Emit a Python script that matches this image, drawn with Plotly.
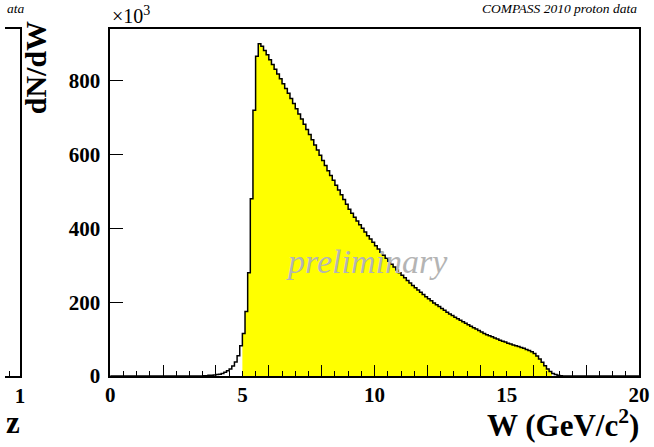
import numpy as np
import plotly.graph_objects as go

# dN/dW histogram, bins of 0.1 GeV/c^2 from 0 to 20, counts in units of 10^3
bin_width = 0.1
w_lo, w_hi = 0.0, 20.0
counts = [
    0, 0, 0, 0, 0, 0, 0, 0, 0, 0,            # 0.0 - 0.9
    0, 0, 0, 0, 0, 0, 0, 0, 0, 0,            # 1.0 - 1.9
    0, 0, 0, 0, 0, 0, 0, 0, 0, 0,            # 2.0 - 2.9
    0, 0, 0, 0, 0, 1, 1, 2, 2, 3,            # 3.0 - 3.9
    4, 5, 7, 10, 14, 19, 27, 38, 55, 82,     # 4.0 - 4.9
    115, 175, 280, 480, 720, 866, 900, 893, 882, 870,   # 5.0 - 5.9
    857, 844, 831, 818, 805, 792, 779, 766, 752, 738,   # 6.0 - 6.9
    724, 710, 696, 682, 668, 654, 640, 626, 612, 598,   # 7.0 - 7.9
    584, 570, 556, 543, 530, 517, 504, 491, 478, 465,   # 8.0 - 8.9
    452, 441, 430, 420, 410, 400, 390, 380, 371, 362,   # 9.0 - 9.9
    353, 344, 335, 327, 319, 311, 303, 295, 287, 280,   # 10.0 - 10.9
    273, 266, 259, 252, 245, 239, 233, 227, 221, 215,   # 11.0 - 11.9
    209, 204, 198, 193, 188, 183, 178, 173, 168, 164,   # 12.0 - 12.9
    159, 155, 151, 147, 143, 139, 135, 131, 127, 123,   # 13.0 - 13.9
    119, 115, 112, 109, 106, 103, 100, 97, 94, 92,      # 14.0 - 14.9
    89, 87, 84, 82, 80, 77, 75, 72, 69, 66,             # 15.0 - 15.9
    61, 54, 46, 37, 28, 19, 12, 7, 4, 2,                # 16.0 - 16.9
    1, 0, 0, 0, 0, 0, 0, 0, 0, 0,                       # 17.0 - 17.9
    0, 0, 0, 0, 0, 0, 0, 0, 0, 0,                       # 18.0 - 18.9
    0, 0, 0, 0, 0, 0, 0, 0, 0, 0,                       # 19.0 - 19.9
]
# W window shown filled
cut_lo, cut_hi = 5.0, 16.7

x_labels = [0, 5, 10, 15, 20]
x_major = [0, 2, 4, 6, 8, 10, 12, 14, 16, 18, 20]
y_ticks = [0, 200, 400, 600, 800]

SERIF = "Liberation Serif"
W, H = 654, 447
ML, MR, MT, MB = 0, 15, 29, 71
pw = W - ML - MR
ph = H - MT - MB
frame_left = 106

edges = np.round(np.arange(len(counts) + 1) * bin_width + w_lo, 3)
c = np.array(counts, dtype=float)

sel = (edges[:-1] >= cut_lo - 1e-9) & (edges[:-1] < cut_hi - 1e-9)
fx = np.append(edges[:-1][sel], edges[1:][sel][-1])
fy = np.append(c[sel], c[sel][-1])

fig = go.Figure()
fig.add_trace(go.Scatter(x=fx, y=fy, mode="lines", line=dict(shape="hv", width=0),
                         fill="tozeroy", fillcolor="#ffff00", hoverinfo="skip",
                         showlegend=False))
fig.add_trace(go.Scatter(x=edges, y=np.append(c, c[-1]), mode="lines",
                         line=dict(shape="hv", color="black", width=1.5),
                         showlegend=False))
# label-only axis over the main one
fig.add_trace(go.Scatter(x=[w_lo], y=[0], mode="markers", marker=dict(opacity=0),
                         xaxis="x3", showlegend=False, hoverinfo="skip"))
# left neighbour panel (cut off)
fig.add_trace(go.Scatter(x=[0.99], y=[0], mode="markers", marker=dict(opacity=0),
                         xaxis="x2", yaxis="y2", showlegend=False, hoverinfo="skip"))

axfont = dict(family=SERIF, size=21, color="black", weight="bold")
fig.update_layout(
    width=W, height=H,
    margin=dict(l=ML, r=MR, t=MT, b=MB),
    paper_bgcolor="white", plot_bgcolor="white",
    xaxis=dict(domain=[frame_left / pw, 1], range=[w_lo, w_hi],
               tickvals=x_major, showticklabels=False,
               ticks="inside", ticklen=11, tickwidth=1.3, tickcolor="black",
               minor=dict(dtick=0.5, ticks="inside", ticklen=5.5, tickwidth=1.2,
                          tickcolor="black", showgrid=False),
               showline=True, linecolor="black", linewidth=1.5, mirror=True,
               showgrid=False, zeroline=False),
    xaxis3=dict(overlaying="x", matches="x", anchor="y", side="bottom",
                tickvals=x_labels, ticks="", showline=False, showgrid=False,
                zeroline=False, tickfont=axfont, ticklabelstandoff=4),
    yaxis=dict(range=[0, 940], tickvals=y_ticks, ticks="inside", ticklen=13,
               tickwidth=1.3, tickcolor="black", ticklabelstandoff=4,
               showline=True, linecolor="black", linewidth=1.5, mirror=True,
               showgrid=False, zeroline=False, tickfont=axfont),
    xaxis2=dict(domain=[0, 15 / pw], range=[0.9625, 1.0], anchor="y2",
                tickvals=[0.975, 1.0], ticktext=[" ", "1"], ticks="inside",
                ticklen=5, tickcolor="black",
                showline=True, linecolor="black", linewidth=1.5, mirror=True,
                showgrid=False, zeroline=False, tickfont=axfont),
    yaxis2=dict(range=[0, 1], anchor="x2", side="right", showticklabels=False,
                ticks="", showline=True, linecolor="black", linewidth=1.5,
                mirror=False, showgrid=False, zeroline=False),
)

fig.add_annotation(text="×10<sup>3</sup>", xref="paper", yref="paper",
                   x=frame_left / pw, y=1, xanchor="left", yanchor="bottom",
                   showarrow=False, font=dict(family=SERIF, size=20, color="black"))
fig.add_annotation(text="COMPASS 2010 proton data", xref="paper", yref="paper",
                   x=1, y=1 + 21 / ph, xanchor="right", yanchor="middle",
                   showarrow=False,
                   font=dict(family=SERIF, size=13.5, color="black", style="italic"))
fig.add_annotation(text="ata", xref="paper", yref="paper",
                   x=0, y=1 + 21 / ph, xanchor="left", yanchor="middle",
                   showarrow=False,
                   font=dict(family=SERIF, size=13.5, color="black", style="italic"))
fig.add_annotation(text="dN/dW", xref="paper", yref="paper",
                   x=31 / pw, y=1 + 10 / ph, xanchor="center", yanchor="top",
                   textangle=-90, showarrow=False,
                   font=dict(family=SERIF, size=30, color="black", weight="bold"))
fig.add_annotation(text="W (GeV/c<sup>2</sup>)", xref="paper", yref="paper",
                   x=1.003, y=-47 / ph, xanchor="right", yanchor="middle",
                   showarrow=False,
                   font=dict(family=SERIF, size=31, color="black", weight="bold"))
fig.add_annotation(text="z", xref="paper", yref="paper",
                   x=8 / pw, y=-46 / ph, xanchor="center", yanchor="middle",
                   showarrow=False,
                   font=dict(family=SERIF, size=31, color="black", weight="bold"))
fig.add_annotation(text="preliminary", xref="x", yref="y", x=9.7, y=310,
                   xanchor="center", yanchor="middle", showarrow=False,
                   font=dict(family=SERIF, size=34, color="#b4b4b4", style="italic"))

# drop the default page margin so the figure sits at the window origin
fig.write_html("out.html", config={"displayModeBar": False},
               post_script="document.body.style.margin='0';")
